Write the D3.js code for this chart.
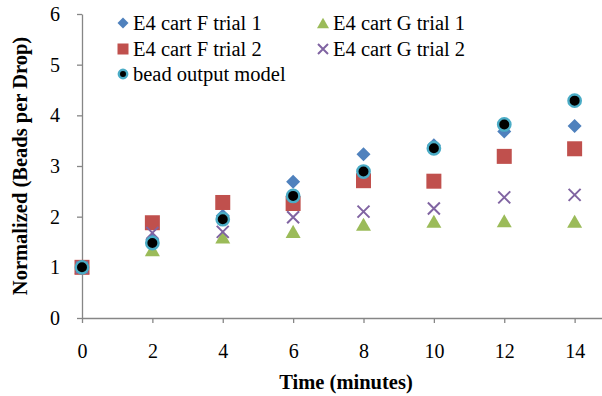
<!DOCTYPE html>
<html><head><meta charset="utf-8">
<script src="https://cdn.jsdelivr.net/npm/d3@7"></script>
<style>html,body{margin:0;padding:0;background:#fff;}svg{display:block;}
svg text{font-family:'Liberation Serif','Times New Roman',serif !important;}</style>
</head><body>
<svg id="c" width="602" height="396"></svg>
<script>
const times = [0, 2, 4, 6, 8, 10, 12, 14];
const seriesNames = ["E4 cart F trial 1", "E4 cart G trial 1", "E4 cart F trial 2", "E4 cart G trial 2", "bead output model"];
const cartF1 = [1, 1.55, 2.02, 2.69, 3.23, 3.41, 3.68, 3.79];
const cartG1 = [1, 1.35, 1.6, 1.71, 1.85, 1.91, 1.92, 1.91];
const cartF2 = [1, 1.88, 2.28, 2.26, 2.71, 2.70, 3.19, 3.34];
const cartG2 = [1, 1.68, 1.70, 1.99, 2.10, 2.16, 2.38, 2.43];
const model  = [1, 1.48, 1.95, 2.41, 2.89, 3.35, 3.82, 4.29];
const xTicks = [0, 2, 4, 6, 8, 10, 12, 14];
const yTicks = [0, 1, 2, 3, 4, 5, 6];

const svg = d3.select("#c");
const x = d3.scaleLinear().domain([0, 16]).range([82, 645]);
const y = d3.scaleLinear().domain([0, 6]).range([318, 14]);
const axisColor = "#868686";
const font = "'Liberation Serif','Times New Roman',serif";

// Y axis
const ya = svg.append("g").attr("transform", "translate(82,0)")
  .call(d3.axisLeft(y).tickValues(yTicks).tickFormat(d3.format("d")).tickSize(5).tickPadding(17).tickSizeOuter(0));
// X axis
const xa = svg.append("g").attr("transform", "translate(0,318)")
  .call(d3.axisBottom(x).tickValues(xTicks).tickFormat(d3.format("d")).tickSize(5).tickPadding(21).tickSizeOuter(0));
[ya, xa].forEach(g => {
  g.attr("font-family", font).attr("font-size", 20);
  g.selectAll("path,line").attr("stroke", axisColor).attr("stroke-width", 1.3);
  g.selectAll("text").attr("fill", "#000");
});

// Titles
svg.append("text").attr("x", 346).attr("y", 389).attr("text-anchor", "middle")
  .attr("font-family", font).attr("font-size", 20.5).attr("font-weight", "bold")
  .text("Time (minutes)");
svg.append("text").attr("transform", "translate(27,166) rotate(-90)").attr("text-anchor", "middle")
  .attr("font-family", font).attr("font-size", 20.5).attr("font-weight", "bold")
  .text("Normalized (Beads per Drop)");

const colors = ["#4F81BD", "#9BBB59", "#C0504D", "#8064A2", "#4BACC6"];
const shapes = ["diamond", "triangle", "square", "x", "circle"];
const data = [cartF1, cartG1, cartF2, cartG2, model];

function drawMarker(g, shape, color, s) {
  if (shape === "diamond") {
    g.append("path").attr("d", `M0,${-s/2}L${s/2},0L0,${s/2}L${-s/2},0Z`).attr("fill", color);
  } else if (shape === "square") {
    g.append("rect").attr("x", -s/2).attr("y", -s/2).attr("width", s).attr("height", s).attr("fill", color);
  } else if (shape === "triangle") {
    const h = s * 0.87;
    g.append("path").attr("d", `M0,${-h/2}L${s/2},${h/2}L${-s/2},${h/2}Z`).attr("fill", color);
  } else if (shape === "x") {
    const r = s / 2;
    g.append("path").attr("d", `M${-r},${-r}L${r},${r}M${-r},${r}L${r},${-r}`)
      .attr("stroke", color).attr("stroke-width", 2).attr("fill", "none");
  } else if (shape === "circle") {
    g.append("circle").attr("r", s/2 - 1.3).attr("fill", "#000").attr("stroke", color).attr("stroke-width", 2.4);
  }
}
const sizes = { diamond: 14, triangle: 15, square: 15, x: 12, circle: 15 };

data.forEach((vals, i) => {
  const g = svg.append("g");
  vals.forEach((v, j) => {
    const m = g.append("g").attr("transform", `translate(${x(times[j])},${y(v)})`);
    drawMarker(m, shapes[i], colors[i], sizes[shapes[i]]);
  });
});

// Legend
const legendPos = [[123, 23], [323, 23], [123, 49], [323, 49], [123, 74]];
const legSizes = { diamond: 11, triangle: 12, square: 11, x: 10, circle: 11 };
seriesNames.forEach((name, i) => {
  const [lx, ly] = legendPos[i];
  const m = svg.append("g").attr("transform", `translate(${lx},${ly})`);
  drawMarker(m, shapes[i], colors[i], legSizes[shapes[i]]);
  svg.append("text").attr("x", lx + 10).attr("y", ly + 7)
    .attr("font-family", font).attr("font-size", 20.5).text(name);
});
</script>
</body></html>
